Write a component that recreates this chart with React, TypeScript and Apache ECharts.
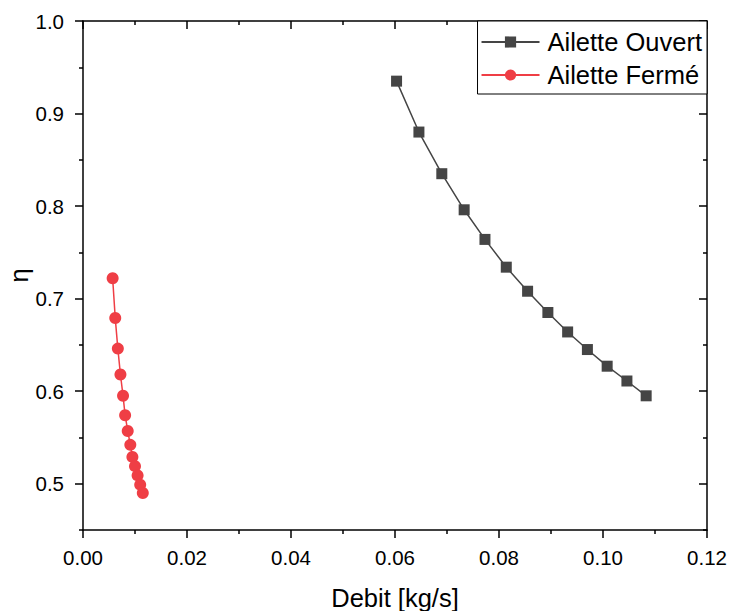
import React, { useEffect, useRef } from "react";
import * as echarts from "echarts";

const ouvertX = [0.0603, 0.0646, 0.069, 0.0733, 0.0773, 0.0814, 0.0855, 0.0894, 0.0932, 0.097, 0.1008, 0.1046, 0.1083];
const ouvertY = [0.935, 0.88, 0.835, 0.796, 0.764, 0.734, 0.708, 0.685, 0.664, 0.645, 0.627, 0.611, 0.595];
const fermeX = [0.0057, 0.0062, 0.0067, 0.0072, 0.0077, 0.0081, 0.0086, 0.0091, 0.0095, 0.01, 0.0105, 0.011, 0.0115];
const fermeY = [0.722, 0.679, 0.646, 0.618, 0.595, 0.574, 0.557, 0.542, 0.529, 0.519, 0.509, 0.499, 0.49];

const yMajorTicks = [0.5, 0.6, 0.7, 0.8, 0.9, 1.0];
const yMinorTicks = [0.45, 0.55, 0.65, 0.75, 0.85, 0.95];
const seriesNames = ["Ailette Ouvert", "Ailette Fermé"];
const xTitle = "Debit [kg/s]";
const yTitle = "η";

const FONT = "'Liberation Sans', Arial, sans-serif";
const AXIS_COLOR = "#000";

export default function App() {
  const ref = useRef<HTMLDivElement>(null);
  useEffect(() => {
    if (!ref.current) return;
    const chart = echarts.init(ref.current, undefined, { renderer: "svg" });
    const lineStyle = { color: AXIS_COLOR, width: 1.5 };
    const baseX = {
      type: "value" as const,
      min: 0,
      max: 0.12,
      interval: 0.02,
      splitLine: { show: false },
    };
    const baseY = {
      type: "value" as const,
      min: 0.45,
      max: 1.0,
      splitLine: { show: false },
    };
    chart.setOption({
      animation: false,
      backgroundColor: "#fff",
      textStyle: { fontFamily: FONT },
      grid: { left: 83, right: 23, top: 21, bottom: 81, containLabel: false, outerBoundsMode: "none" },
      legend: {
        orient: "vertical",
        right: 23,
        top: 21,
        data: seriesNames,
        borderColor: "#000",
        borderWidth: 1,
        backgroundColor: "#fff",
        padding: [8, 5, 6, 3],
        itemWidth: 58,
        itemHeight: 14,
        itemGap: 7,
        textStyle: { fontSize: 25.5, color: "#000", fontFamily: FONT, lineHeight: 25, padding: [0, 0, 0, 3] },
      },
      xAxis: [
        {
          ...baseX,
          position: "bottom",
          name: xTitle,
          nameLocation: "middle",
          nameGap: 55,
          nameMoveOverlap: false,
          nameTextStyle: { fontSize: 25.5, color: "#000", fontFamily: FONT, lineHeight: 25 },
          axisLine: { show: true, lineStyle },
          axisTick: { show: true, inside: false, length: 8, lineStyle },
          minorTick: { show: true, splitNumber: 2, length: 4, lineStyle },
          axisLabel: {
            fontSize: 20.5,
            color: "#000",
            margin: 17,
            fontFamily: FONT,
            formatter: (v: number) => v.toFixed(2),
          },
        },
        {
          ...baseX,
          position: "top",
          axisLine: { show: true, lineStyle },
          axisTick: { show: true, inside: true, length: 8, lineStyle },
          minorTick: { show: true, splitNumber: 2, length: 4, lineStyle },
          axisLabel: { show: false },
        },
      ],
      yAxis: [
        {
          ...baseY,
          position: "left",
          name: yTitle,
          nameLocation: "middle",
          nameGap: 51,
          nameMoveOverlap: false,
          nameTextStyle: { fontSize: 25.5, color: "#000", fontFamily: FONT, lineHeight: 26 },
          axisLine: { show: true, lineStyle },
          axisTick: { show: true, inside: false, length: 8, lineStyle, customValues: yMajorTicks },
          axisLabel: {
            fontSize: 20.5,
            color: "#000",
            margin: 19,
            fontFamily: FONT,
            customValues: yMajorTicks,
            formatter: (v: number) => v.toFixed(1),
          },
        },
        {
          ...baseY,
          position: "left",
          axisLine: { show: false },
          axisTick: { show: true, inside: false, length: 4, lineStyle, customValues: yMinorTicks },
          axisLabel: { show: false, customValues: yMinorTicks },
        },
        {
          ...baseY,
          position: "right",
          axisLine: { show: true, lineStyle },
          axisTick: { show: true, inside: true, length: 8, lineStyle, customValues: yMajorTicks },
          axisLabel: { show: false, customValues: yMajorTicks },
        },
        {
          ...baseY,
          position: "right",
          axisLine: { show: false },
          axisTick: { show: true, inside: true, length: 4, lineStyle, customValues: yMinorTicks },
          axisLabel: { show: false, customValues: yMinorTicks },
        },
      ],
      series: [
        {
          name: seriesNames[0],
          type: "line",
          xAxisIndex: 0,
          yAxisIndex: 0,
          data: ouvertX.map((x, i) => [x, ouvertY[i]]),
          symbol: "rect",
          symbolSize: 11,
          itemStyle: { color: "#454545" },
          lineStyle: { color: "#454545", width: 1.5 },
        },
        {
          name: seriesNames[1],
          type: "line",
          xAxisIndex: 0,
          yAxisIndex: 0,
          data: fermeX.map((x, i) => [x, fermeY[i]]),
          symbol: "circle",
          symbolSize: 12,
          itemStyle: { color: "#ef3e45" },
          lineStyle: { color: "#ef3e45", width: 1.5 },
        },
      ],
    });
    return () => chart.dispose();
  }, []);
  return <div ref={ref} style={{ position: "fixed", left: 0, top: 0, width: 730, height: 611 }} />;
}
